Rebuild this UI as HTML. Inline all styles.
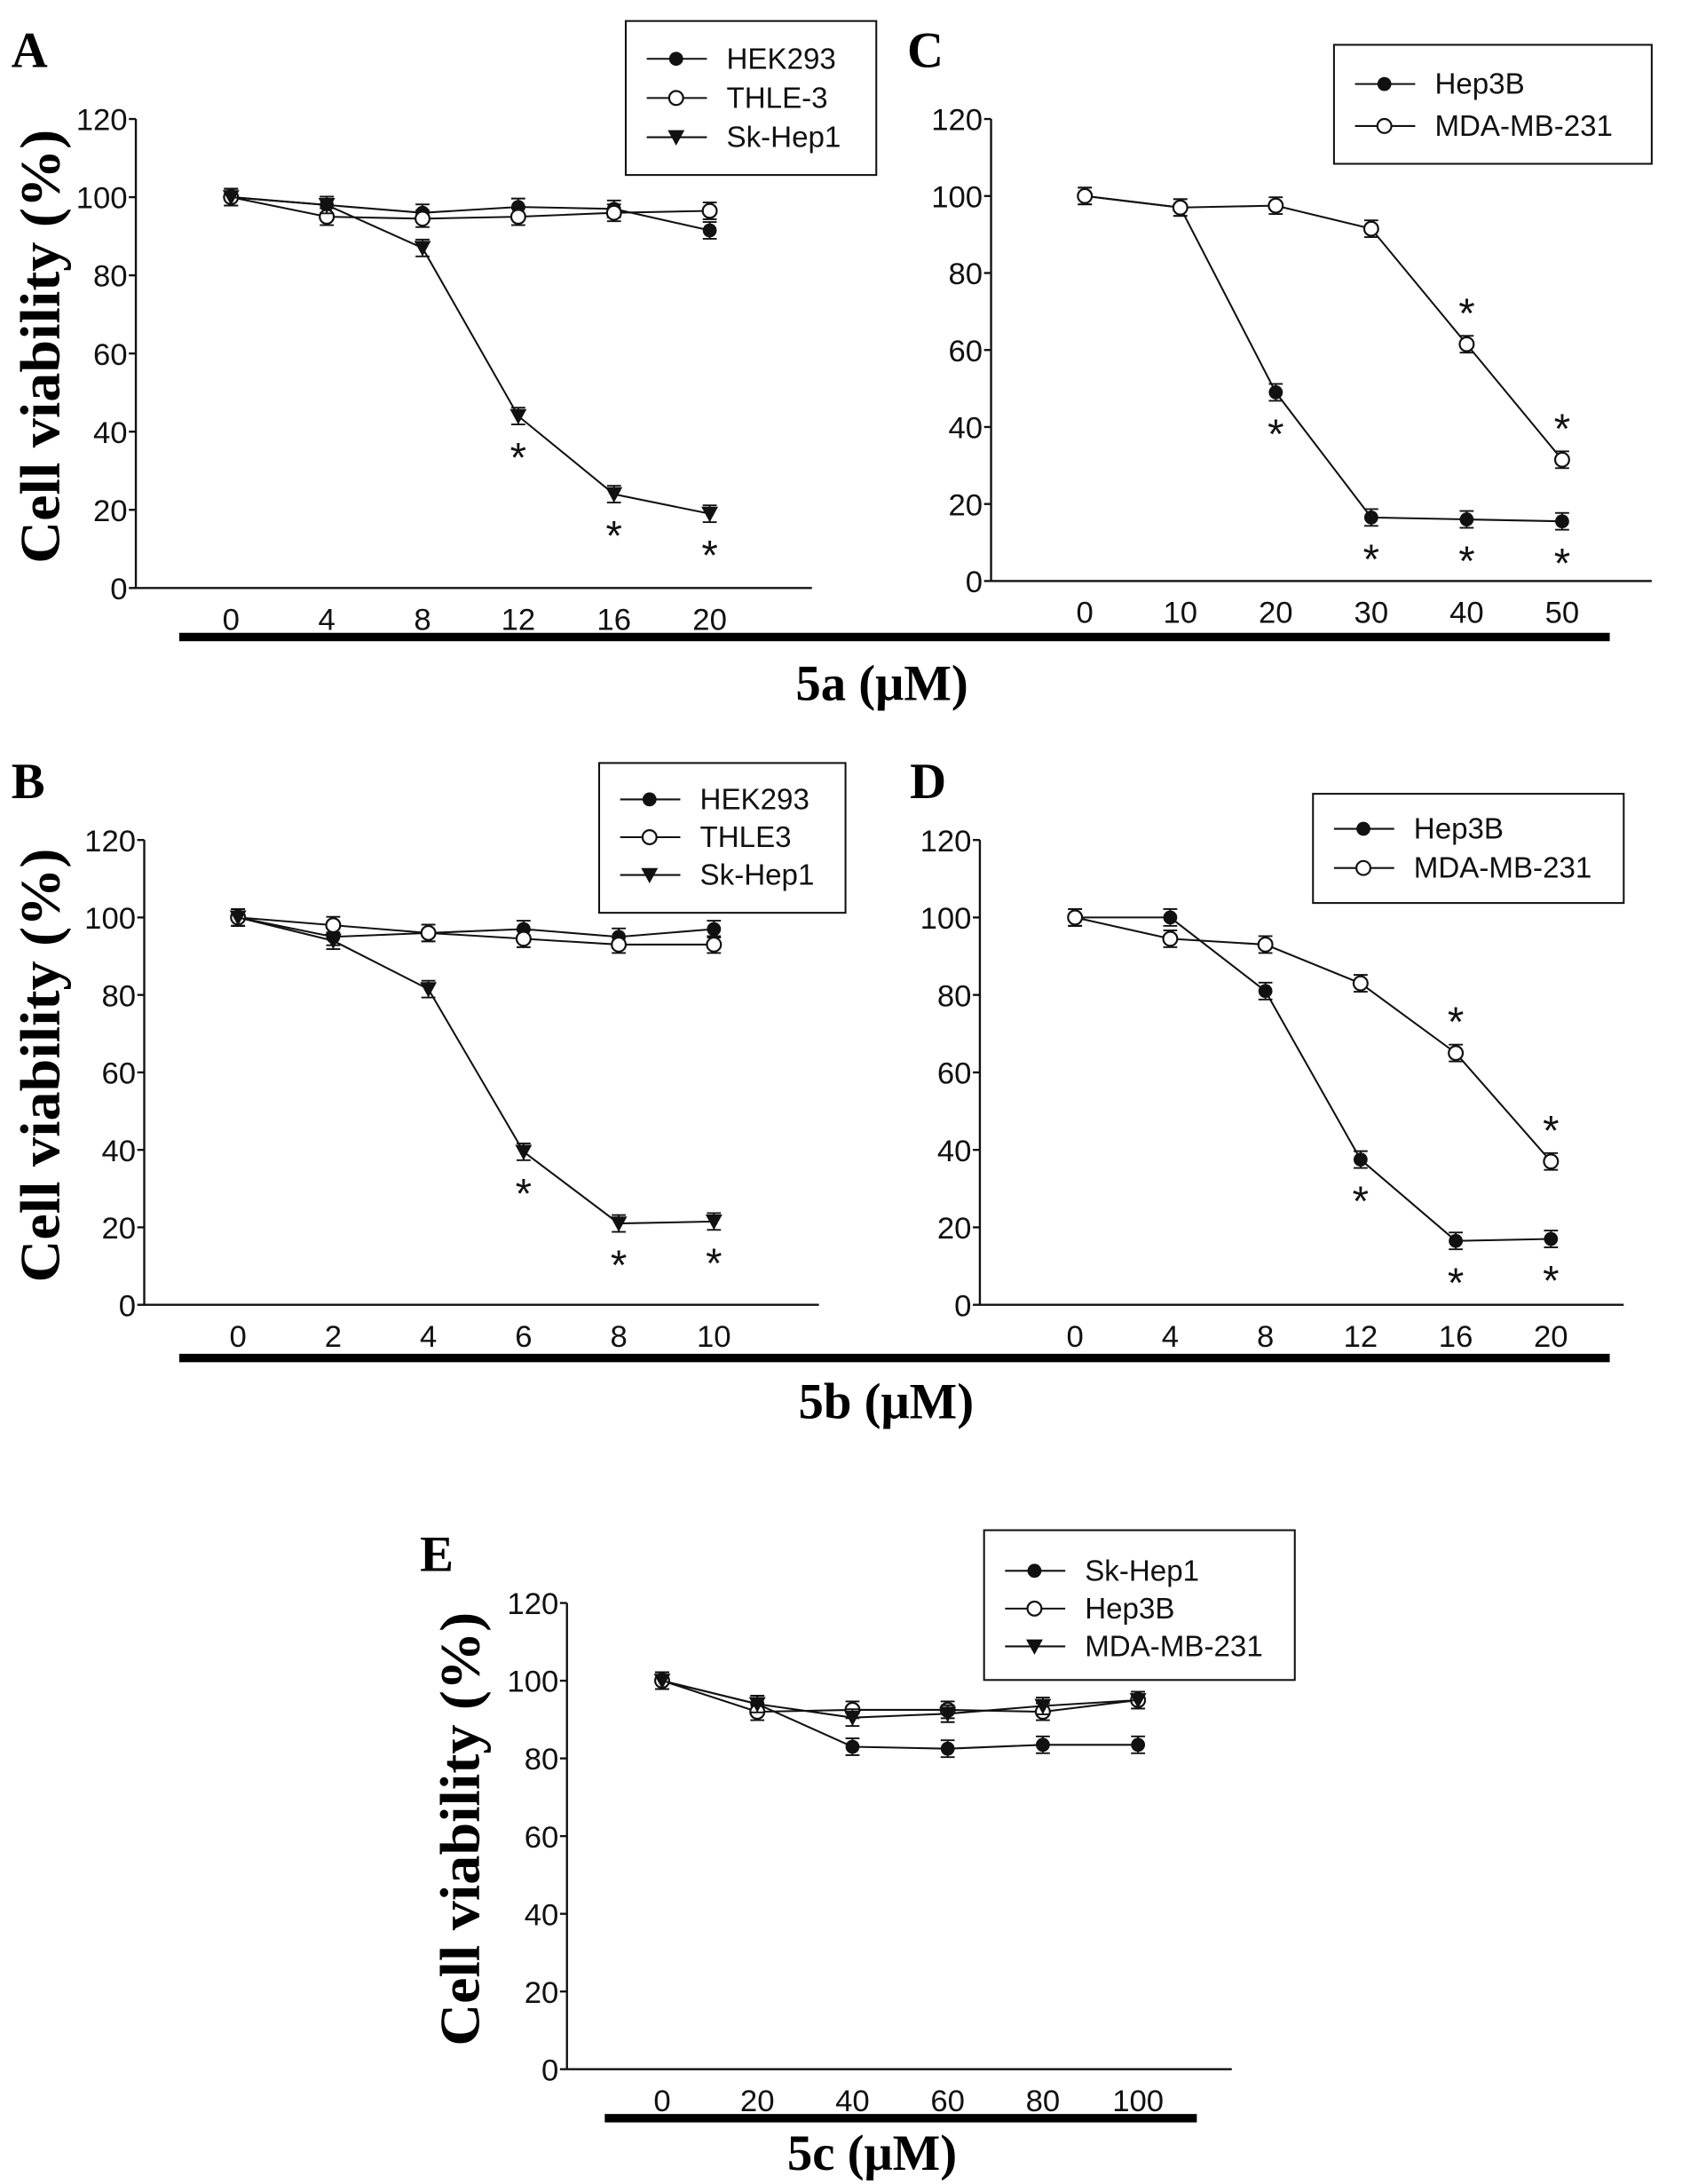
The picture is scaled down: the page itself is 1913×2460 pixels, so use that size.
<!DOCTYPE html>
<html><head><meta charset="utf-8"><style>
html,body{margin:0;padding:0;background:#fff;}
svg{display:block;}
.tick{font-family:"Liberation Sans",sans-serif;font-size:22px;fill:#111;}
.leg{font-family:"Liberation Sans",sans-serif;font-size:21px;fill:#111;}
.big{font-family:"Liberation Serif",serif;font-weight:bold;fill:#000;}
</style></head><body>
<svg id="fig" width="1913" height="2460" viewBox="0 0 1213 1560" xmlns="http://www.w3.org/2000/svg">
<rect width="1213" height="1560" fill="#fff"/>
</svg>
<script>
// Panel A data (5a)
const aX = [0,4,8,12,16,20];
const aHek = [100,98,96,97.5,97,91.5];
const aThle = [100,95,94.5,95,96,96.5];
const aSk = [100,98,87,44,24,19];
// Panel C data (5a)
const cX = [0,10,20,30,40,50];
const cHep = [100,97,49,16.5,16,15.5];
const cMda = [100,97,97.5,91.5,61.5,31.5];
// Panel B data (5b)
const bX = [0,2,4,6,8,10];
const bHek = [100,95,96,97,95,97];
const bThle = [100,98,96,94.5,93,93];
const bSk = [100,94,81.5,39.5,21,21.5];
// Panel D data (5b)
const dX = [0,4,8,12,16,20];
const dHep = [100,100,81,37.5,16.5,17];
const dMda = [100,94.5,93,83,65,37];
// Panel E data (5c)
const eX = [0,20,40,60,80,100];
const eSk = [100,94,83,82.5,83.5,83.5];
const eHep = [100,92,92.5,92.5,92,95];
const eMda = [100,94,90.5,91.5,93.5,95];
const yTicks = [0,20,40,60,80,100,120];

const NS = "http://www.w3.org/2000/svg";
const svg = document.getElementById('fig');
function mk(tag, attrs, parent){
  const e = document.createElementNS(NS, tag);
  for (const k in attrs) e.setAttribute(k, attrs[k]);
  (parent||svg).appendChild(e);
  return e;
}
function panel(o){
  const g = mk('g', {});
  
  
  const sx = v => o.x0 + (v - o.xs[0]) / (o.xs[o.xs.length-1] - o.xs[0]) * (o.x1 - o.x0);
  const sy = v => o.yb + (o.yt - o.yb) * v / 120;
  const ya = mk('line', {x1:o.ax, y1:o.yt, x2:o.ax, y2:o.yb, stroke:'#111', 'stroke-width':1.5}, g);
  
  
  const xa = mk('line', {x1:o.ax, y1:o.yb, x2:o.axEnd, y2:o.yb, stroke:'#111', 'stroke-width':1.5}, g);
  
  
  yTicks.forEach(t => {
    mk('line', {x1:o.ax-5, y1:sy(t), x2:o.ax, y2:sy(t), stroke:'#111', 'stroke-width':1.5}, g);
    const tx = mk('text', {x:o.ax-6, y:sy(t)+8, 'text-anchor':'end', class:'tick'}, g);
    tx.textContent = t;
    
    
  });
  o.xs.forEach(v => {
    const tx = mk('text', {x:sx(v), y:o.yb+30, 'text-anchor':'middle', class:'tick'}, g);
    tx.textContent = v;
    
    
  });
  const L = mk('text', {x:o.lx, y:o.ly, class:'big', 'font-size':36}, g);
  L.textContent = o.id;
  
  
  if (o.ytitle){
    const t = mk('text', {x:0, y:0, class:'big', 'font-size':40, 'text-anchor':'middle', textLength:310, lengthAdjust:'spacingAndGlyphs', transform:`translate(${o.ytx},${(o.yt+o.yb)/2 - 5}) rotate(-90)`}, g);
    t.textContent = 'Cell viability (%)';
    
    
  }
  o.series.forEach(s => {
    const pts = s.vals.map((v,i) => [sx(o.xs[i]), sy(v)]);
    const pl = mk('polyline', {points:pts.map(p=>p.join(',')).join(' '), fill:'none', stroke:'#111', 'stroke-width':1.3}, g);
    
    
    pts.forEach((p,i) => {
      const e = 3;
      mk('line', {x1:p[0], y1:p[1]-e*2, x2:p[0], y2:p[1]+e*2, stroke:'#111','stroke-width':1.2}, g);
      mk('line', {x1:p[0]-5, y1:p[1]-e*2, x2:p[0]+5, y2:p[1]-e*2, stroke:'#111','stroke-width':1.2}, g);
      mk('line', {x1:p[0]-5, y1:p[1]+e*2, x2:p[0]+5, y2:p[1]+e*2, stroke:'#111','stroke-width':1.2}, g);
      const m = marker(g, s.m, p[0], p[1]);
      
      
    });
    (s.stars||[]).forEach(i => {
      const st = mk('text', {x:sx(o.xs[i]), y:sy(s.vals[i]) + s.sd, 'text-anchor':'middle', 'font-family':'Liberation Sans, sans-serif', 'font-size':30, fill:'#111'}, g);
      st.textContent = '*';
      
      
    });
  });
  const lg = mk('g', {}, g);
  
  
  mk('rect', {x:o.lg[0], y:o.lg[1], width:o.lg[2], height:o.lg[3], fill:'#fff', stroke:'#111','stroke-width':1.3}, lg);
  o.series.forEach((s,i) => {
    const y = o.lg[1] + o.lgy0 + i*o.lgdy;
    const ent = mk('g', {}, lg);
    
    
    mk('line', {x1:o.lg[0]+15, y1:y, x2:o.lg[0]+58, y2:y, stroke:'#111','stroke-width':1.3}, ent);
    marker(ent, s.m, o.lg[0]+36, y);
    const t = mk('text', {x:o.lg[0]+72, y:y+7, class:'leg'}, ent);
    t.textContent = s.name;
  });
}
function marker(g, type, x, y){
  if (type==='fill') return mk('circle', {cx:x, cy:y, r:5, fill:'#111'}, g);
  if (type==='open') return mk('circle', {cx:x, cy:y, r:5, fill:'#fff', stroke:'#111','stroke-width':1.4}, g);
  return mk('polygon', {points:`${x-6},${y-5} ${x+6},${y-5} ${x},${y+6}`, fill:'#111'}, g);
}
function bar(x1,x2,y,label,ly,cx){
  const b = mk('rect', {x:x1, y:y-3, width:x2-x1, height:6, fill:'#000'});
  
  
  const t = mk('text', {x:cx, y:ly, class:'big', 'font-size':36, 'text-anchor':'middle'});
  t.textContent = label;
  
  
}
panel({id:'A', xs:aX, x0:165, x1:507, ax:97, axEnd:580, yt:85, yb:420, lx:8, ly:48, ytitle:true, ytx:42,
  lg:[447,15,179,110], lgy0:27, lgdy:28,
  series:[{name:'HEK293', vals:aHek, m:'fill'},{name:'THLE-3', vals:aThle, m:'open'},{name:'Sk-Hep1', vals:aSk, m:'tri', stars:[3,4,5], sd:40}]});
panel({id:'C', xs:cX, x0:775, x1:1116, ax:708, axEnd:1180, yt:85, yb:415, lx:648, ly:48, ytitle:false,
  lg:[953,32,227,85], lgy0:28, lgdy:30,
  series:[{name:'Hep3B', vals:cHep, m:'fill', stars:[2,3,4,5], sd:40},{name:'MDA-MB-231', vals:cMda, m:'open', stars:[4,5], sd:-12}]});
panel({id:'B', xs:bX, x0:170, x1:510, ax:103, axEnd:585, yt:600, yb:932, lx:8, ly:570, ytitle:true, ytx:42,
  lg:[428,545,176,107], lgy0:26, lgdy:27,
  series:[{name:'HEK293', vals:bHek, m:'fill'},{name:'THLE3', vals:bThle, m:'open'},{name:'Sk-Hep1', vals:bSk, m:'tri', stars:[3,4,5], sd:40}]});
panel({id:'D', xs:dX, x0:768, x1:1108, ax:700, axEnd:1160, yt:600, yb:932, lx:650, ly:570, ytitle:false,
  lg:[938,567,222,78], lgy0:25, lgdy:28,
  series:[{name:'Hep3B', vals:dHep, m:'fill', stars:[3,4,5], sd:40},{name:'MDA-MB-231', vals:dMda, m:'open', stars:[4,5], sd:-12}]});
panel({id:'E', xs:eX, x0:473, x1:813, ax:405, axEnd:880, yt:1145, yb:1478, lx:300, ly:1122, ytitle:true, ytx:342,
  lg:[703,1093,222,107], lgy0:29, lgdy:27,
  series:[{name:'Sk-Hep1', vals:eSk, m:'fill'},{name:'Hep3B', vals:eHep, m:'open'},{name:'MDA-MB-231', vals:eMda, m:'tri'}]});
bar(128,1150,455,'5a (\u03bcM)',500,630);
bar(128,1150,970,'5b (\u03bcM)',1013,633);
bar(432,855,1513,'5c (\u03bcM)',1550,623);
</script>
</body></html>
